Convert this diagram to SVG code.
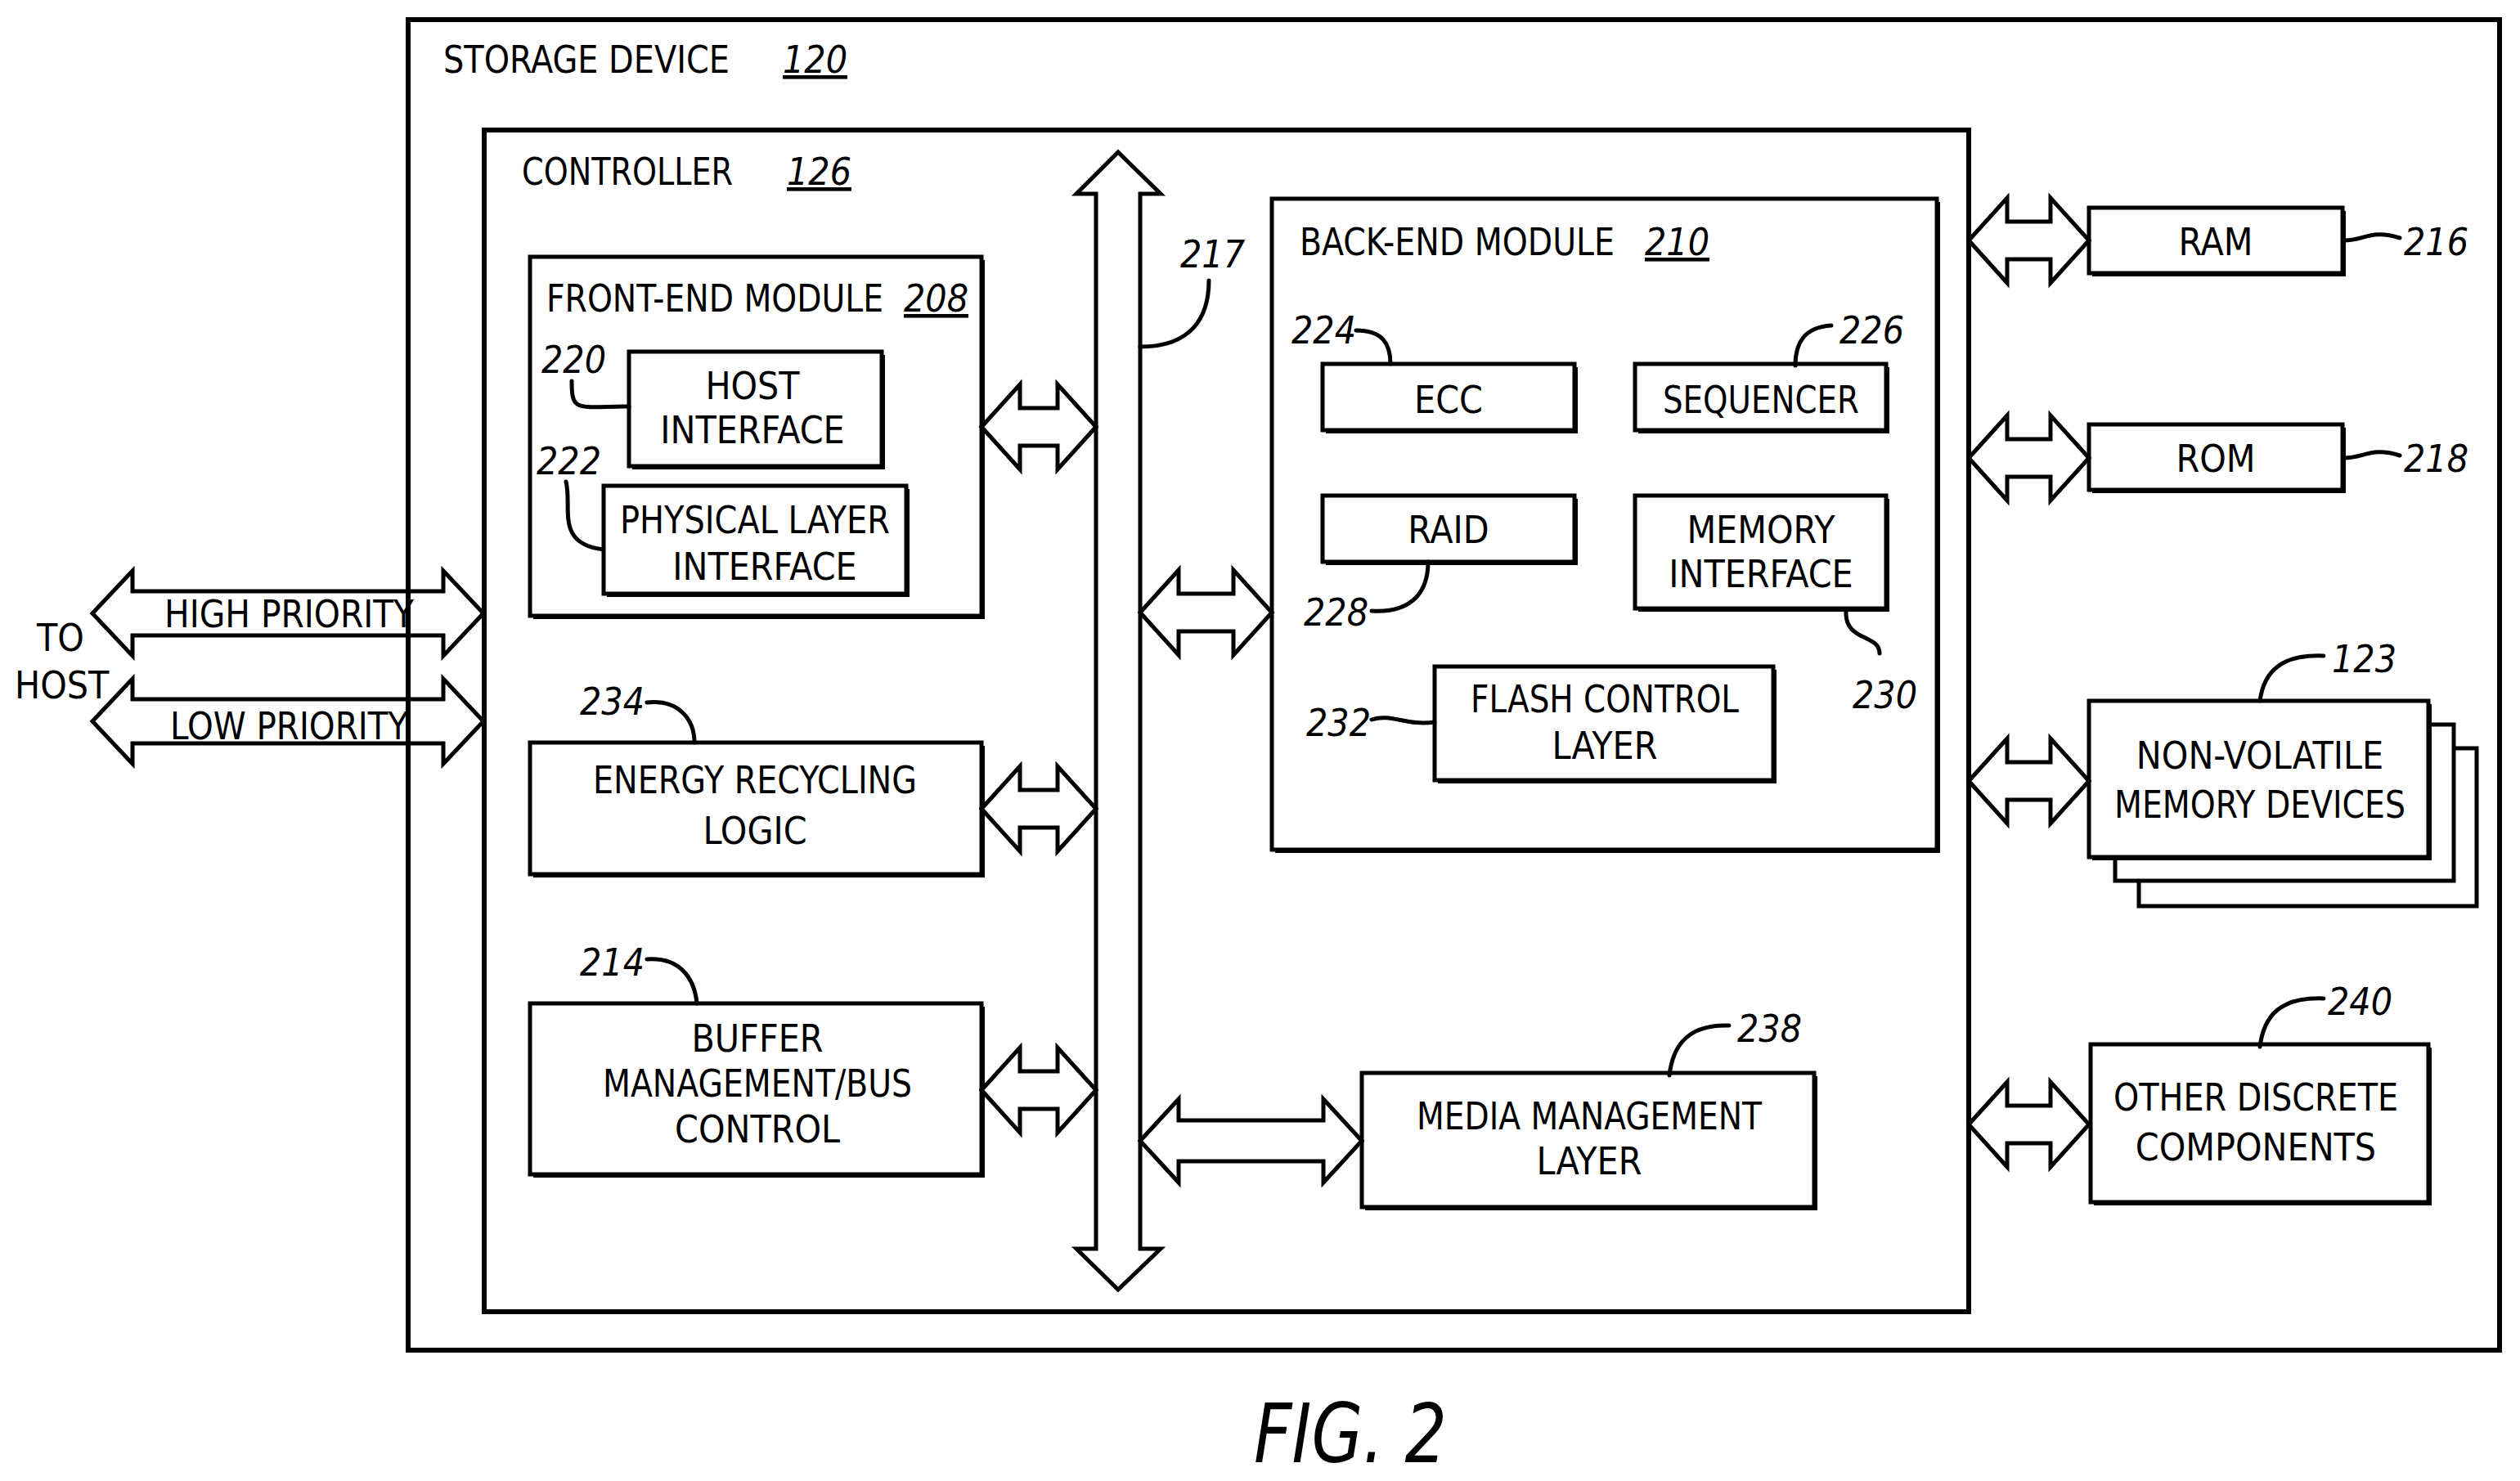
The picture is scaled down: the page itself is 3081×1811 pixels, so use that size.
<svg xmlns="http://www.w3.org/2000/svg" width="3081" height="1811" viewBox="0 0 3081 1811">
<style>
text{font-family:"DejaVu Sans Condensed","DejaVu Sans",sans-serif;font-stretch:condensed;font-size:46px;fill:#000}
.m{text-anchor:middle}
.n{font-style:italic}
.u{text-decoration:underline}
.box{fill:#fff;stroke:#000;stroke-width:5}
.sh{fill:#000}
.frame{fill:none;stroke:#000;stroke-width:6}
.arr{fill:#fff;stroke:#000;stroke-width:5;stroke-linejoin:miter}
.arr0{fill:none;stroke:#000;stroke-width:5}
.ld{fill:none;stroke:#000;stroke-width:5;stroke-linecap:round}
</style>
<g id="storage"><rect class="frame" x="499" y="24" width="2557" height="1627"/><text x="542" y="89" textLength="350" lengthAdjust="spacingAndGlyphs">STORAGE DEVICE</text><text class="n u" x="957" y="89">120</text></g>
<g id="controller"><rect class="frame" x="592" y="159" width="1815" height="1445"/><text x="638" y="226" textLength="258" lengthAdjust="spacingAndGlyphs">CONTROLLER</text><text class="n u" x="962" y="226">126</text></g>
<g id="frontend"><rect class="sh" x="652" y="318" width="552" height="439"/><rect class="box" x="648" y="314" width="552" height="439"/><text x="668" y="381" textLength="412" lengthAdjust="spacingAndGlyphs">FRONT-END MODULE</text><text class="n u" x="1105" y="381">208</text></g>
<g id="host"><rect class="sh" x="773" y="434" width="309" height="140"/><rect class="box" x="769" y="430" width="309" height="140"/><text class="m" x="920" y="488">HOST</text><text class="m" x="920" y="542">INTERFACE</text><text class="n" x="662" y="456">220</text></g>
<g id="phy"><rect class="sh" x="742" y="598" width="370" height="132"/><rect class="box" x="738" y="594" width="370" height="132"/><text class="m" x="923" y="652" textLength="330" lengthAdjust="spacingAndGlyphs">PHYSICAL LAYER</text><text class="m" x="935" y="709">INTERFACE</text><text class="n" x="656" y="580">222</text></g>
<g id="energy"><rect class="sh" x="652" y="912" width="552" height="161"/><rect class="box" x="648" y="908" width="552" height="161"/><text class="m" x="923" y="970" textLength="396" lengthAdjust="spacingAndGlyphs">ENERGY RECYCLING</text><text class="m" x="923" y="1032">LOGIC</text><text class="n" x="709" y="874">234</text></g>
<g id="buffer"><rect class="sh" x="652" y="1231" width="552" height="209"/><rect class="box" x="648" y="1227" width="552" height="209"/><text class="m" x="926" y="1286">BUFFER</text><text class="m" x="926" y="1341" textLength="378" lengthAdjust="spacingAndGlyphs">MANAGEMENT/BUS</text><text class="m" x="926" y="1397">CONTROL</text><text class="n" x="709" y="1193">214</text></g>
<g id="backend"><rect class="sh" x="1559" y="247" width="813" height="796"/><rect class="box" x="1555" y="243" width="813" height="796"/><text x="1589" y="312" textLength="385" lengthAdjust="spacingAndGlyphs">BACK-END MODULE</text><text class="n u" x="2011" y="312">210</text></g>
<g id="ecc"><rect class="sh" x="1621" y="449" width="308" height="81"/><rect class="box" x="1617" y="445" width="308" height="81"/><text class="m" x="1771" y="505">ECC</text><text class="n" x="1579" y="420">224</text></g>
<g id="seq"><rect class="sh" x="2003" y="449" width="307" height="81"/><rect class="box" x="1999" y="445" width="307" height="81"/><text class="m" x="2153" y="505" textLength="240" lengthAdjust="spacingAndGlyphs">SEQUENCER</text><text class="n" x="2249" y="420">226</text></g>
<g id="raid"><rect class="sh" x="1621" y="610" width="308" height="81"/><rect class="box" x="1617" y="606" width="308" height="81"/><text class="m" x="1771" y="664">RAID</text><text class="n" x="1594" y="765">228</text></g>
<g id="memif"><rect class="sh" x="2003" y="610" width="307" height="138"/><rect class="box" x="1999" y="606" width="307" height="138"/><text class="m" x="2153" y="664">MEMORY</text><text class="m" x="2153" y="718">INTERFACE</text><text class="n" x="2265" y="866">230</text></g>
<g id="flash"><rect class="sh" x="1758" y="819" width="414" height="139"/><rect class="box" x="1754" y="815" width="414" height="139"/><text class="m" x="1962" y="871" textLength="328" lengthAdjust="spacingAndGlyphs">FLASH CONTROL</text><text class="m" x="1962" y="928">LAYER</text><text class="n" x="1597" y="900">232</text></g>
<g id="media"><rect class="sh" x="1669" y="1316" width="553" height="164"/><rect class="box" x="1665" y="1312" width="553" height="164"/><text class="m" x="1943" y="1381" textLength="422" lengthAdjust="spacingAndGlyphs">MEDIA MANAGEMENT</text><text class="m" x="1943" y="1436">LAYER</text><text class="n" x="2124" y="1274">238</text></g>
<g id="ram"><rect class="sh" x="2558" y="258" width="310" height="80"/><rect class="box" x="2554" y="254" width="310" height="80"/><text class="m" x="2709" y="312">RAM</text><text class="n" x="2939" y="312">216</text></g>
<g id="rom"><rect class="sh" x="2558" y="523" width="310" height="80"/><rect class="box" x="2554" y="519" width="310" height="80"/><text class="m" x="2709" y="577">ROM</text><text class="n" x="2939" y="577">218</text></g>
<g id="nvm"><rect class="box" x="2615" y="915" width="413" height="193"/><rect class="box" x="2586" y="886" width="414" height="191"/><rect class="sh" x="2558" y="861" width="415" height="191"/><rect class="box" x="2554" y="857" width="415" height="191"/><text class="m" x="2763" y="940">NON-VOLATILE</text><text class="m" x="2763" y="1000" textLength="356" lengthAdjust="spacingAndGlyphs">MEMORY DEVICES</text><text class="n" x="2851" y="822">123</text></g>
<g id="other"><rect class="sh" x="2560" y="1281" width="413" height="193"/><rect class="box" x="2556" y="1277" width="413" height="193"/><text class="m" x="2758" y="1358" textLength="348" lengthAdjust="spacingAndGlyphs">OTHER DISCRETE</text><text class="m" x="2758" y="1419">COMPONENTS</text><text class="n" x="2846" y="1241">240</text></g>
<g id="host-side"><text x="45" y="796">TO</text><text x="18" y="854">HOST</text></g>
<g id="connectors">
<polygon class="arr" points="1367,186 1419,237 1394,237 1394,1527 1419,1527 1367,1577 1316,1527 1340,1527 1340,237 1316,237"/>
<text class="n" x="1443" y="327">217</text>
<polygon class="arr0" points="113,750 162,698 162,723 542,723 542,698 591,750 542,802 542,777 162,777 162,802"/>
<polygon class="arr0" points="113,882 162,830 162,855 542,855 542,830 591,882 542,934 542,909 162,909 162,934"/>
<text x="201" y="767" textLength="305" lengthAdjust="spacingAndGlyphs">HIGH PRIORITY</text><text x="208" y="904" textLength="291" lengthAdjust="spacingAndGlyphs">LOW PRIORITY</text>
<polygon class="arr" points="1200,522 1247,470 1247,499 1293,499 1293,470 1340,522 1293,574 1293,545 1247,545 1247,574"/>
<polygon class="arr" points="1200,989 1247,937 1247,966 1293,966 1293,937 1340,989 1293,1041 1293,1012 1247,1012 1247,1041"/>
<polygon class="arr" points="1200,1333 1247,1281 1247,1310 1293,1310 1293,1281 1340,1333 1293,1385 1293,1356 1247,1356 1247,1385"/>
<polygon class="arr" points="1394,749 1441,697 1441,726 1508,726 1508,697 1555,749 1508,801 1508,772 1441,772 1441,801"/>
<polygon class="arr" points="1394,1395 1441,1344 1441,1370 1618,1370 1618,1344 1665,1395 1618,1446 1618,1420 1441,1420 1441,1446"/>
<polygon class="arr" points="2407,294 2454,242 2454,271 2507,271 2507,242 2554,294 2507,346 2507,317 2454,317 2454,346"/>
<polygon class="arr" points="2407,560 2454,508 2454,537 2507,537 2507,508 2554,560 2507,612 2507,583 2454,583 2454,612"/>
<polygon class="arr" points="2407,955 2454,903 2454,932 2507,932 2507,903 2554,955 2507,1007 2507,978 2454,978 2454,1007"/>
<polygon class="arr" points="2407,1375 2454,1323 2454,1352 2507,1352 2507,1323 2554,1375 2507,1427 2507,1398 2454,1398 2454,1427"/>
<path class="ld" d="M1478,343 C1478,390 1455,424 1394,424"/>
<path class="ld" d="M699,466 C699,505 705,497 769,497"/>
<path class="ld" d="M692,589 C700,620 678,665 738,672"/>
<path class="ld" d="M791,859 C830,855 849,880 849,908"/>
<path class="ld" d="M791,1173 C830,1170 849,1195 852,1227"/>
<path class="ld" d="M1658,404 C1690,404 1700,420 1700,445"/>
<path class="ld" d="M2239,398 C2205,400 2195,420 2195,447"/>
<path class="ld" d="M1677,747 C1730,750 1746,720 1746,687"/>
<path class="ld" d="M2257,747 C2255,785 2298,775 2298,799"/>
<path class="ld" d="M1677,880 C1700,872 1720,888 1754,883"/>
<path class="ld" d="M2866,294 C2890,294 2900,280 2934,291"/>
<path class="ld" d="M2866,560 C2890,560 2900,546 2934,557"/>
<path class="ld" d="M2841,802 C2790,800 2768,820 2763,857"/>
<path class="ld" d="M2841,1221 C2790,1219 2768,1240 2763,1280"/>
<path class="ld" d="M2114,1254 C2062,1252 2045,1280 2041,1315"/>
</g>
<text class="n" x="1533" y="1788" style="font-size:100px" textLength="236" lengthAdjust="spacingAndGlyphs">FIG. 2</text>
</svg>
